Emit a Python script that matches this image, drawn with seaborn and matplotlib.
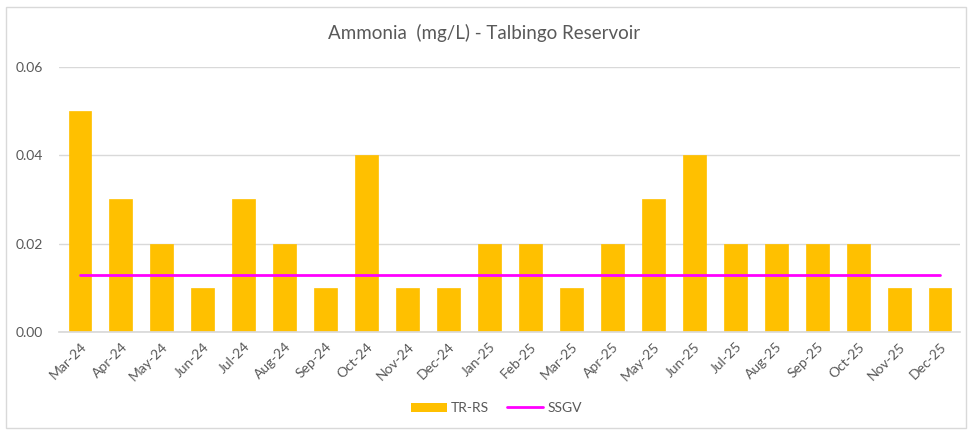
import matplotlib
matplotlib.use("Agg")
import matplotlib.pyplot as plt
from matplotlib.patches import Rectangle, Patch
from matplotlib.lines import Line2D
import seaborn as sns
import pandas as pd

months = ["Mar-24", "Apr-24", "May-24", "Jun-24", "Jul-24", "Aug-24", "Sep-24",
          "Oct-24", "Nov-24", "Dec-24", "Jan-25", "Feb-25", "Mar-25", "Apr-25",
          "May-25", "Jun-25", "Jul-25", "Aug-25", "Sep-25", "Oct-25", "Nov-25",
          "Dec-25"]
tr_rs = [0.05, 0.03, 0.02, 0.01, 0.03, 0.02, 0.01, 0.04, 0.01, 0.01, 0.02,
         0.02, 0.01, 0.02, 0.03, 0.04, 0.02, 0.02, 0.02, 0.02, 0.01, 0.01]
ssgv = [0.013] * len(months)
y_ticks = [0.00, 0.02, 0.04, 0.06]

sns.set_theme(style="white")
plt.rcParams["font.family"] = ["Lato", "DejaVu Sans"]

df = pd.DataFrame({"month": months, "TR-RS": tr_rs, "SSGV": ssgv})

fig = plt.figure(figsize=(9.69, 4.32), dpi=100)
ax = fig.add_axes([0.0614, 0.2315, 0.9298, 0.6135])

bar_color = "#FFC000"
line_color = "#FF00FF"
text_color = "#595959"

sns.barplot(data=df, x="month", y="TR-RS", color=bar_color, width=0.56,
            saturation=1, ax=ax, zorder=2, edgecolor=bar_color, linewidth=0.5)
ax.plot(range(len(months)), df["SSGV"], color=line_color, lw=2, zorder=3)

ax.set_ylim(0, 0.06)
ax.set_xlim(-0.5, len(months) - 0.5)
ax.set_yticks(y_ticks)
ax.set_yticklabels([f"{v:.2f}" for v in y_ticks])
ax.yaxis.grid(True, color="#D9D9D9", lw=1, zorder=0)
ax.set_axisbelow(True)
for side in ["top", "right", "left"]:
    ax.spines[side].set_visible(False)
ax.spines["bottom"].set_color("#D9D9D9")
ax.set_xlabel("")
ax.set_ylabel("")
ax.tick_params(axis="both", length=0, labelsize=10, colors=text_color, pad=6)
ax.tick_params(axis="y", pad=12)
plt.setp(ax.get_xticklabels(), rotation=45, ha="right", rotation_mode="anchor")

fig.text(0.5, 0.923, "Ammonia  (mg/L) - Talbingo Reservoir", ha="center",
         va="center", fontsize=13.5, color=text_color)

handles = [Patch(facecolor=bar_color, edgecolor="none", label="TR-RS"),
           Line2D([0], [0], color=line_color, lw=2, label="SSGV")]
fig.legend(handles=handles, loc="center", bbox_to_anchor=(0.512, 0.055),
           ncol=2, frameon=False, fontsize=10, labelcolor=text_color,
           handlelength=2.6, handletextpad=0.3, columnspacing=1.3)

fig.patches.append(Rectangle((6 / 969, 4 / 432), 960 / 969, 421 / 432,
                             transform=fig.transFigure, fill=False,
                             edgecolor="#D9D9D9", lw=1))

fig.savefig("out.png", dpi=100)
